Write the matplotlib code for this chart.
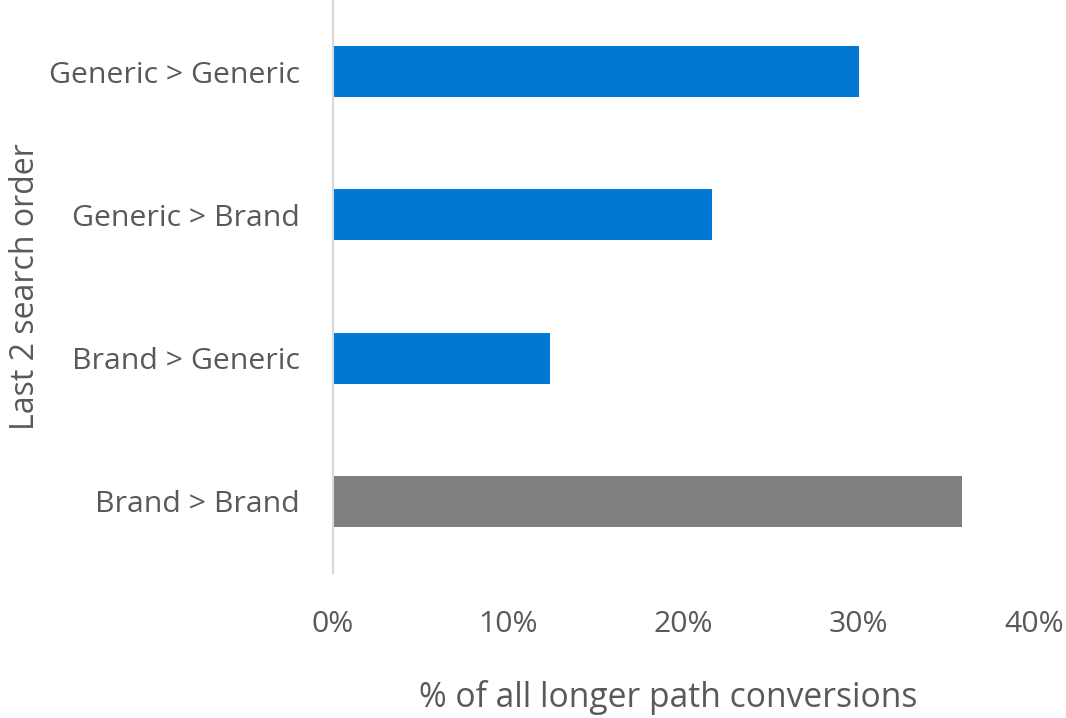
import matplotlib
matplotlib.use("Agg")
from matplotlib import pyplot as plt
from matplotlib.ticker import PercentFormatter

# last two searches before conversion, bottom to top
orders = ["Brand > Brand", "Brand > Generic", "Generic > Brand", "Generic > Generic"]
share = [35.9, 12.4, 21.6, 30.0]
colors = ["#7F7F7F", "#0078D4", "#0078D4", "#0078D4"]
xticks = [0, 10, 20, 30, 40]

text_color = "#595959"
plt.rcParams['font.family'] = ['Open Sans', 'DejaVu Sans']

fig = plt.figure(figsize=(10.66, 7.18), dpi=100)
ax = fig.add_axes([0.3124, 0.202, 0.6576, 0.798])

ax.barh(range(len(orders)), share, height=0.355, color=colors)

ax.set_xlim(0, 40)
ax.set_ylim(-0.5, len(orders) - 0.5)
ax.set_xticks(xticks)
ax.xaxis.set_major_formatter(PercentFormatter(decimals=0))
ax.set_yticks(range(len(orders)))
ax.set_yticklabels(orders)

for s in ["top", "right", "bottom"]:
    ax.spines[s].set_visible(False)
ax.spines["left"].set_color("#D9D9D9")
ax.spines["left"].set_linewidth(1.5)

ax.tick_params(axis="both", length=0, labelsize=21.8, colors=text_color)
ax.tick_params(axis="x", pad=27)
ax.tick_params(axis="y", pad=24)

ax.set_xlabel("% of all longer path conversions", fontsize=24.2, color=text_color, labelpad=29)
ax.xaxis.label.set_x(0.478)
ax.set_ylabel("Last 2 search order", fontsize=23, color=text_color, labelpad=5)

fig.savefig("out.png", dpi=100)
